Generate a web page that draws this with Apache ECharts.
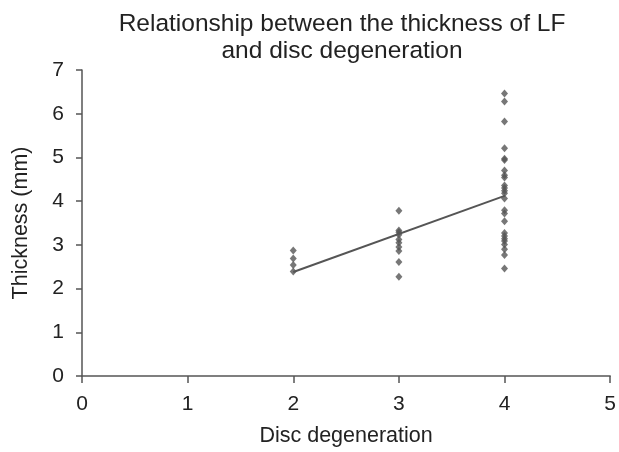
<!DOCTYPE html>
<html><head><meta charset="utf-8">
<script src="https://cdn.jsdelivr.net/npm/echarts@6/dist/echarts.min.js"></script>
<style>html,body{margin:0;padding:0;background:#fff}#c{width:619px;height:452px}</style>
</head><body><div id="c"></div>
<script>
const grade2 = [2.87, 2.69, 2.54, 2.39];
const grade3 = [3.78, 3.33, 3.29, 3.23, 3.12, 3.05, 2.95, 2.86, 2.61, 2.27];
const grade4 = [6.46, 6.28, 5.82, 5.21, 4.97, 4.94, 4.70, 4.59, 4.54, 4.36, 4.30, 4.24, 4.18, 4.06, 3.79, 3.72, 3.54, 3.27, 3.20, 3.14, 3.09, 3.01, 2.90, 2.77, 2.46];
const trendX = [2, 4];
const trendY = [2.38, 4.12];

const points = [].concat(
  grade2.map(v => [2, v]),
  grade3.map(v => [3, v]),
  grade4.map(v => [4, v])
);
const trend = trendX.map((x, i) => [x, trendY[i]]);

const chart = echarts.init(document.getElementById('c'));
const axisCol = '#555';
const font = 'Liberation Sans';
chart.setOption({
  animation: false,
  title: {
    text: 'Relationship between the thickness of LF\nand disc degeneration',
    left: 337, top: 6, textAlign: 'center',
    textStyle: {fontFamily: font, fontSize: 24.5, fontWeight: 'normal', color: '#222', lineHeight: 27}
  },
  grid: {left: 82, right: 3, top: 70, bottom: 73},
  xAxis: {
    type: 'value', min: 0, max: 5, interval: 1,
    name: 'Disc degeneration', nameLocation: 'middle', nameGap: 49,
    nameTextStyle: {fontFamily: font, fontSize: 21.5, color: '#222', verticalAlign: 'top'},
    axisLine: {show: true, lineStyle: {color: axisCol, width: 1.5}},
    axisTick: {show: true, length: 7, lineStyle: {color: axisCol, width: 1.5}},
    axisLabel: {fontFamily: font, fontSize: 21, color: '#222', margin: 18},
    splitLine: {show: false}
  },
  yAxis: {
    type: 'value', min: 0, max: 7, interval: 1,
    name: 'Thickness (mm)', nameLocation: 'middle', nameGap: 50,
    nameTextStyle: {fontFamily: font, fontSize: 21.5, color: '#222'},
    axisLine: {show: true, lineStyle: {color: axisCol, width: 1.5}},
    axisTick: {show: true, length: 6, lineStyle: {color: axisCol, width: 1.5}},
    axisLabel: {fontFamily: font, fontSize: 21, color: '#222', margin: 18},
    splitLine: {show: false}
  },
  series: [
    {type: 'scatter', data: points, symbol: 'diamond', symbolSize: [7, 8], itemStyle: {color: '#555'}},
    {type: 'line', data: trend, symbol: 'none', lineStyle: {color: '#555', width: 2}}
  ]
});
</script></body></html>
